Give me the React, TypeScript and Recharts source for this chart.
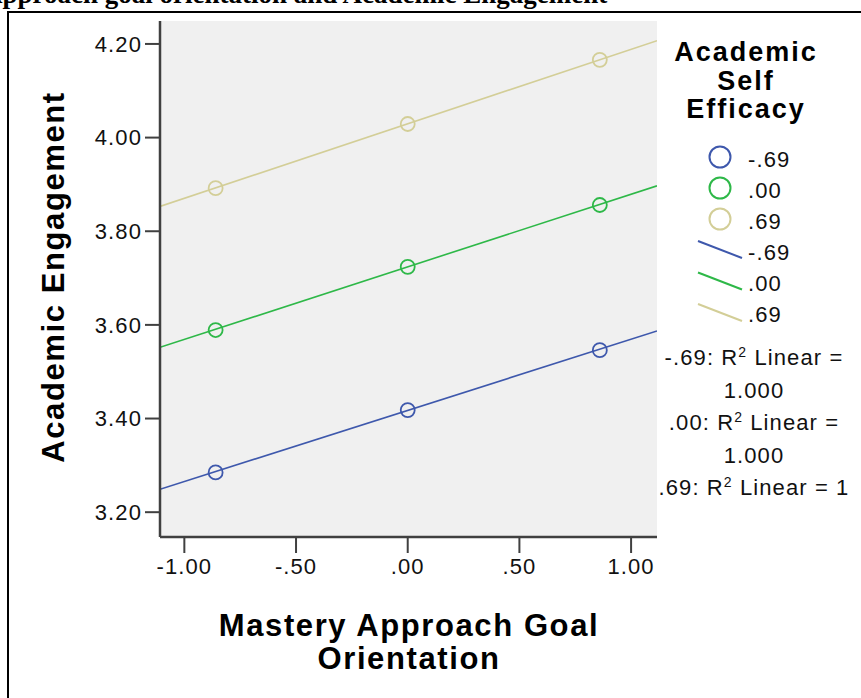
import { ComposedChart, Line, Scatter, XAxis, YAxis, CartesianGrid } from "recharts"

// axis ticks
const xTicks = [-1, -0.5, 0, 0.5, 1]
const xTickLabels = ["-1.00", "-.50", ".00", ".50", "1.00"]
const yTicks = [3.2, 3.4, 3.6, 3.8, 4.0, 4.2]
const yTickLabels = ["3.20", "3.40", "3.60", "3.80", "4.00", "4.20"]

// observed cell means (x = mastery approach, -1 SD / mean / +1 SD)
const masteryPoints = [-0.86, 0, 0.86]
const lowEfficacy = [3.285, 3.418, 3.546]
const midEfficacy = [3.589, 3.724, 3.856]
const highEfficacy = [3.892, 4.029, 4.166]

// fit line ends, read at the plot edges
const fitX = [-1.109, 1.116]
const lowFit = [3.249, 3.587]
const midFit = [3.552, 3.897]
const highFit = [3.853, 4.207]

const efficacyLevels = ["-.69", ".00", ".69"]
const seriesColors = ["#3e58ac", "#2eb848", "#d3ce97"]
const rSquared = ["1.000", "1.000", "1"]

const FONT = "'Liberation Sans', Arial, sans-serif"

const toRows = (xs: number[], ys: number[]) => xs.map((x, i) => ({ x, y: ys[i] }))

const series = [
  { points: toRows(masteryPoints, lowEfficacy), fit: toRows(fitX, lowFit) },
  { points: toRows(masteryPoints, midEfficacy), fit: toRows(fitX, midFit) },
  { points: toRows(masteryPoints, highEfficacy), fit: toRows(fitX, highFit) },
]

const axisText = { fontSize: 22, fill: "#111", fontFamily: FONT, letterSpacing: 1.1 }
const titleText = { fontFamily: FONT, fontWeight: "bold", fontSize: 31, letterSpacing: 1.6 }
const borderColor = "#404040"

function Legend() {
  const titleLines = ["Academic", "Self", "Efficacy"]
  // R2 lines wrap like SPSS does
  const rLines: { head: string; tail: string }[] = []
  efficacyLevels.forEach((lvl, i) => {
    if (rSquared[i].length > 1) {
      rLines.push({ head: `${lvl}: R`, tail: " Linear =" })
      rLines.push({ head: "", tail: rSquared[i] })
    } else {
      rLines.push({ head: `${lvl}: R`, tail: ` Linear = ${rSquared[i]}` })
    }
  })
  return (
    <svg width={861} height={698} style={{ position: "absolute", left: 0, top: 0 }}>
      {titleLines.map((t, i) => (
        <text
          key={t}
          x={746}
          y={61 + i * 28.5}
          textAnchor="middle"
          fontFamily={FONT}
          fontWeight="bold"
          fontSize={27}
          letterSpacing={2}
        >
          {t}
        </text>
      ))}
      {efficacyLevels.map((lvl, i) => (
        <g key={"c" + i}>
          <circle cx={720} cy={157 + i * 31} r={10.5} fill="none" stroke={seriesColors[i]} strokeWidth={2} />
          <text x={748} y={167 + i * 31} {...axisText}>
            {lvl}
          </text>
        </g>
      ))}
      {efficacyLevels.map((lvl, i) => (
        <g key={"l" + i}>
          <line x1={698} y1={241 + i * 31.5} x2={742} y2={258 + i * 31.5} stroke={seriesColors[i]} strokeWidth={2} />
          <text x={748} y={260 + i * 31} {...axisText}>
            {lvl}
          </text>
        </g>
      ))}
      {rLines.map((ln, i) => (
        <text key={"r" + i} x={754} y={365 + i * 32.5} textAnchor="middle" {...axisText}>
          {ln.head}
          {ln.head && (
            <tspan fontSize={14} dy={-8}>
              2
            </tspan>
          )}
          <tspan dy={ln.head ? 8 : 0}>{ln.tail}</tspan>
        </text>
      ))}
    </svg>
  )
}

export default function App() {
  return (
    <div
      style={{
        position: "fixed",
        left: 0,
        top: 0,
        width: 861,
        height: 698,
        overflow: "hidden",
        background: "#fff",
      }}
    >
      {/* caption of the page above the figure, mostly cut off by the crop */}
      <svg width={861} height={20} style={{ position: "absolute", left: 0, top: 0 }}>
        <text
          x={-17}
          y={3}
          fontFamily="'Liberation Serif', 'Times New Roman', serif"
          fontWeight="bold"
          fontSize={27}
        >
          Approach goal orientation and Academic Engagement
        </text>
      </svg>
      <div
        style={{
          position: "absolute",
          left: 7,
          top: 11,
          width: 900,
          height: 720,
          borderLeft: "2px solid #000",
          borderTop: "2px solid #000",
        }}
      />
      <div style={{ position: "absolute", left: 0, top: 0 }}>
        <ComposedChart width={861} height={698} margin={{ top: 21, right: 204, bottom: 101, left: 0 }}>
          <CartesianGrid fill="#f0f0f0" horizontal={false} vertical={false} />
          <XAxis
            dataKey="x"
            type="number"
            domain={[-1.109, 1.116]}
            ticks={xTicks}
            allowDataOverflow
            height={60}
            tickSize={16}
            tickMargin={5}
            tickFormatter={(v: number) => xTickLabels[xTicks.indexOf(v)]}
            tick={axisText}
            axisLine={{ stroke: borderColor, strokeWidth: 2.5 }}
            tickLine={{ stroke: borderColor, strokeWidth: 2 }}
          />
          <XAxis xAxisId="top" orientation="top" type="number" domain={[0, 1]} height={0} tick={false} tickLine={false}
            axisLine={{ stroke: borderColor, strokeWidth: 2.5 }} />
          <YAxis
            type="number"
            domain={[3.147, 4.249]}
            ticks={yTicks}
            allowDataOverflow
            width={160}
            tickSize={15}
            tickMargin={3}
            tickFormatter={(v: number) => yTickLabels[yTicks.findIndex((t) => Math.abs(t - v) < 1e-6)]}
            tick={axisText}
            axisLine={{ stroke: borderColor, strokeWidth: 2.5 }}
            tickLine={{ stroke: borderColor, strokeWidth: 2 }}
          />
          <YAxis yAxisId="right" orientation="right" type="number" domain={[0, 1]} width={0} tick={false} tickLine={false}
            axisLine={{ stroke: borderColor, strokeWidth: 2.5 }} />
          {series.map((s, i) => (
            <Line
              key={"fit" + i}
              data={s.fit}
              dataKey="y"
              type="linear"
              stroke={seriesColors[i]}
              strokeWidth={1.6}
              dot={false}
              activeDot={false}
              isAnimationActive={false}
            />
          ))}
          {series.map((s, i) => (
            <Scatter
              key={"pts" + i}
              data={s.points}
              dataKey="y"
              isAnimationActive={false}
              shape={(p: any) => (
                <circle cx={p.cx} cy={p.cy} r={7} fill="none" stroke={seriesColors[i]} strokeWidth={1.8} />
              )}
            />
          ))}
        </ComposedChart>
      </div>
      <svg width={861} height={698} style={{ position: "absolute", left: 0, top: 0 }}>
        <text transform="translate(64 277) rotate(-90)" textAnchor="middle" {...titleText}>
          Academic Engagement
        </text>
        <text x={409} y={636} textAnchor="middle" {...titleText}>
          Mastery Approach Goal
        </text>
        <text x={409} y={669} textAnchor="middle" {...titleText}>
          Orientation
        </text>
      </svg>
      <Legend />
    </div>
  )
}
